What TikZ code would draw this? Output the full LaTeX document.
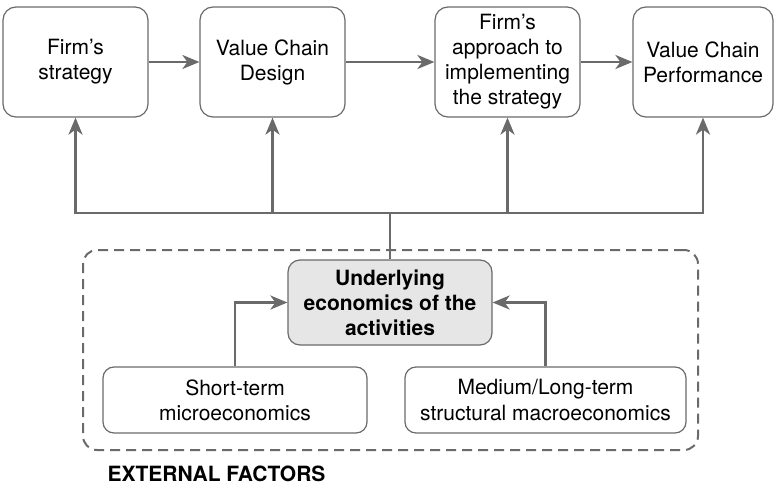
\documentclass[tikz,border=0pt]{standalone}
\usepackage{fontspec}
\setmainfont{TeX Gyre Heros}
\usetikzlibrary{arrows.meta}
\definecolor{linegray}{HTML}{6A6A6A}
\definecolor{coregray}{HTML}{E6E6E6}

\begin{document}
\begin{tikzpicture}[x=1pt,y=-1pt,font=\fontsize{21}{25}\selectfont]
      \tikzstyle{box node}=[draw=linegray,line width=1.2pt,rounded corners=13pt,align=center,inner sep=0pt,minimum width=145pt,minimum height=110pt]
      \tikzstyle{core node}=[box node,fill=coregray,font=\bfseries\fontsize{21}{25}\selectfont,rounded corners=12pt,minimum width=204pt,minimum height=85pt]
      \tikzstyle{factor node}=[box node,rounded corners=11pt,minimum height=66pt]
      \tikzstyle{flow}=[draw=linegray,line width=2.6pt,-{Stealth[length=17pt,width=14pt,inset=5pt]}]
      \tikzstyle{link}=[draw=linegray,line width=2.6pt]
      \useasboundingbox (0,0) rectangle (774,487);

      % external factors frame
      \node(ext)[draw=linegray,line width=2pt,dash pattern=on 10pt off 6pt,rounded corners=14pt,minimum width=615pt,minimum height=200pt] at (390.5,350) {};
      \node(extlabel)[anchor=west,font=\bfseries\fontsize{21}{25}\selectfont] at (104,474) {EXTERNAL FACTORS};

      % top row
      \node(strat)[box node] at (75.5,62) {Firm's\\strategy};
      \node(design)[box node] at (272.5,62) {Value Chain\\Design};
      \node(impl)[box node] at (507.5,62) {Firm's\\approach to\\implementing\\the strategy};
      \node(perf)[box node,minimum width=140pt] at (703,62) {Value Chain\\Performance};

      % underlying economics
      \node(core)[core node] at (390,302.5) {Underlying\\economics of the\\activities};
      \node(short)[factor node,minimum width=264pt] at (235,400) {Short-term\\microeconomics};
      \node(long)[factor node,minimum width=281pt] at (545.5,400) {Medium/Long-term\\structural macroeconomics};

      \coordinate(hub) at (390,213);

      \draw[flow] (strat) -- (design);
      \draw[flow] (design) -- (impl);
      \draw[flow] (impl) -- (perf);

      \draw[link] (core.north) -- (hub);
      \draw[flow] (hub) -| (strat.south);
      \draw[flow] (hub) -| (design.south);
      \draw[flow] (hub) -| (impl.south);
      \draw[flow] (hub) -| (perf.south);

      \draw[flow] (short.north) |- (core.west);
      \draw[flow] (long.north) |- (core.east);
\end{tikzpicture}
\end{document}
